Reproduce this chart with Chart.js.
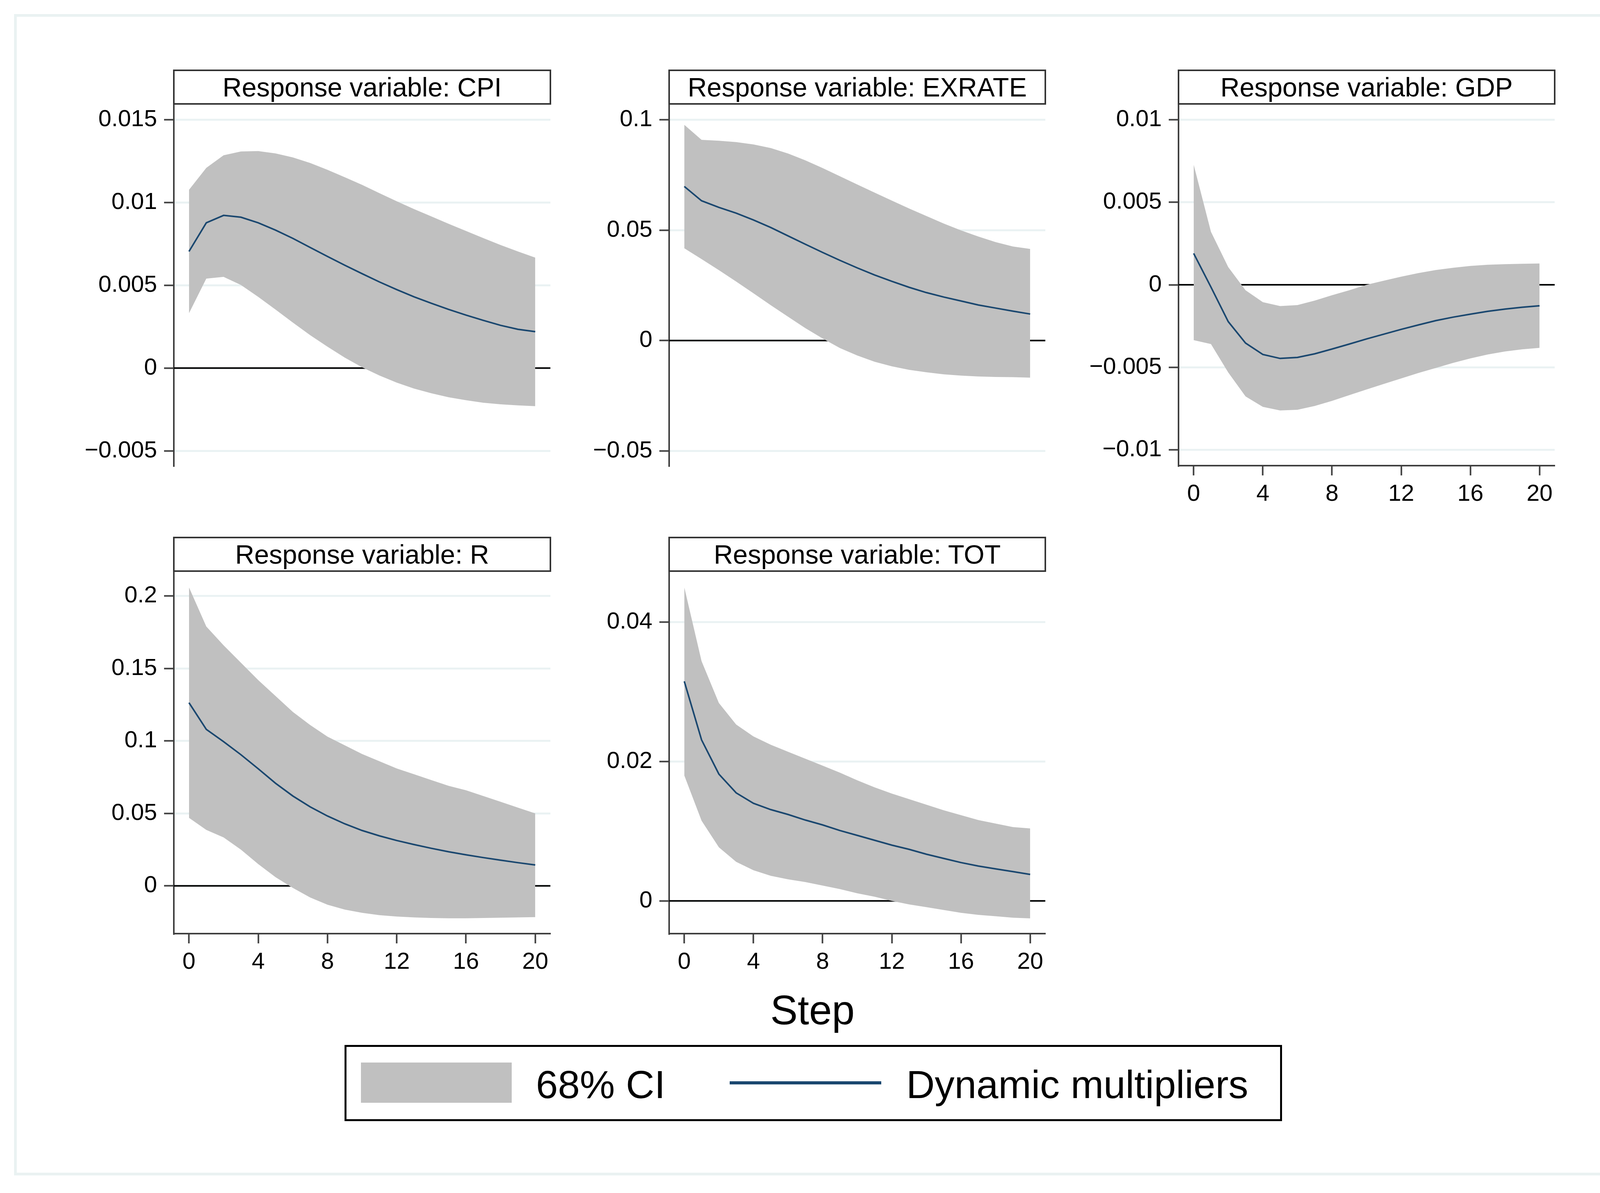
<!DOCTYPE html>
<html>
<head>
<meta charset="utf-8">
<script src="https://cdn.jsdelivr.net/npm/chart.js@4.4.1/dist/chart.umd.min.js"></script>
<style>
  html, body { margin: 0; padding: 0; background: #fff; }
  body { width: 4196px; height: 3054px; position: relative; overflow: hidden; font-family: "Liberation Sans", Arial, sans-serif; color: #000; }
  .frame { position: absolute; left: 36px; top: 36px; width: 4087px; height: 2973px; border: 7px solid #eaf2f2; box-sizing: border-box; }
  canvas { position: absolute; }
  .ptitle { position: absolute; box-sizing: border-box; border: 4px solid #333; background: #fff; font-size: 68px; text-align: center; white-space: nowrap; }
  .xtitle { position: absolute; left: 1780px; width: 600px; top: 2533px; height: 105px; line-height: 105px; font-size: 105px; text-align: center; }
  .legend { position: absolute; left: 882px; top: 2675px; width: 2400px; height: 195px; border: 5px solid #000; box-sizing: border-box; background: #fff; }
  .swatch { position: absolute; left: 924px; top: 2720px; width: 386px; height: 103px; background: #c0c0c0; }
  .lsample { position: absolute; left: 1868px; top: 2768px; width: 388px; height: 8px; background: #1a476f; }
  .ltext { position: absolute; top: 2726px; height: 101px; line-height: 101px; font-size: 101px; white-space: nowrap; }
</style>
</head>
<body>
<div class="frame"></div>
<script>
// steps and x axis
const steps = [0, 1, 2, 3, 4, 5, 6, 7, 8, 9, 10, 11, 12, 13, 14, 15, 16, 17, 18, 19, 20];
const xTickValues = [0, 4, 8, 12, 16, 20];
const xTickLabels = ['0', '4', '8', '12', '16', '20'];

// CPI
const cpiIrf   = [0.00704, 0.00877, 0.00922, 0.00911, 0.00877, 0.00833, 0.00783, 0.00728, 0.00674, 0.00621, 0.00570, 0.00520, 0.00474, 0.00430, 0.00391, 0.00354, 0.00320, 0.00288, 0.00258, 0.00234, 0.00220];
const cpiUpper = [0.01076, 0.01209, 0.01285, 0.01308, 0.01310, 0.01296, 0.01272, 0.01238, 0.01197, 0.01152, 0.01106, 0.01056, 0.01007, 0.00960, 0.00916, 0.00871, 0.00828, 0.00785, 0.00743, 0.00704, 0.00667];
const cpiLower = [0.00331, 0.00540, 0.00551, 0.00502, 0.00430, 0.00353, 0.00275, 0.00199, 0.00129, 0.00063, 0.00005, -0.00045, -0.00088, -0.00124, -0.00152, -0.00176, -0.00194, -0.00209, -0.00219, -0.00225, -0.00230];
const cpiTicks = [-0.005, 0, 0.005, 0.01, 0.015];
const cpiTickLabels = ['\u22120.005', '0', '0.005', '0.01', '0.015'];

// EXRATE
const exrIrf   = [0.0698, 0.0633, 0.0603, 0.0577, 0.0546, 0.0512, 0.0474, 0.0436, 0.0399, 0.0363, 0.0329, 0.0297, 0.0268, 0.0241, 0.0217, 0.0197, 0.0179, 0.0161, 0.0147, 0.0133, 0.0120];
const exrUpper = [0.0977, 0.0909, 0.0905, 0.0899, 0.0888, 0.0872, 0.0847, 0.0816, 0.0781, 0.0744, 0.0707, 0.0670, 0.0634, 0.0598, 0.0564, 0.0530, 0.0499, 0.0471, 0.0446, 0.0426, 0.0415];
const exrLower = [0.0418, 0.0369, 0.0319, 0.0267, 0.0214, 0.0160, 0.0108, 0.0056, 0.0009, -0.0034, -0.0068, -0.0096, -0.0117, -0.0133, -0.0144, -0.0153, -0.0159, -0.0163, -0.0165, -0.0166, -0.0168];
const exrTicks = [-0.05, 0, 0.05, 0.1];
const exrTickLabels = ['\u22120.05', '0', '0.05', '0.1'];

// GDP
const gdpIrf   = [0.00190, -0.00014, -0.00223, -0.00353, -0.00422, -0.00446, -0.00440, -0.00418, -0.00389, -0.00359, -0.00328, -0.00299, -0.00270, -0.00243, -0.00217, -0.00196, -0.00178, -0.00161, -0.00147, -0.00136, -0.00127];
const gdpUpper = [0.00728, 0.00321, 0.00107, -0.00033, -0.00105, -0.00129, -0.00123, -0.00096, -0.00063, -0.00033, 0.00000, 0.00025, 0.00049, 0.00071, 0.00089, 0.00103, 0.00114, 0.00121, 0.00125, 0.00127, 0.00129];
const gdpLower = [-0.00335, -0.00359, -0.00531, -0.00676, -0.00739, -0.00761, -0.00757, -0.00734, -0.00703, -0.00668, -0.00634, -0.00600, -0.00567, -0.00534, -0.00504, -0.00473, -0.00446, -0.00422, -0.00404, -0.00391, -0.00382];
const gdpTicks = [-0.01, -0.005, 0, 0.005, 0.01];
const gdpTickLabels = ['\u22120.01', '\u22120.005', '0', '0.005', '0.01'];

// R
const rIrf   = [0.1264, 0.1080, 0.0995, 0.0905, 0.0808, 0.0708, 0.0620, 0.0545, 0.0482, 0.0428, 0.0382, 0.0345, 0.0313, 0.0285, 0.0259, 0.0235, 0.0214, 0.0195, 0.0177, 0.0160, 0.0144];
const rUpper = [0.206, 0.179, 0.166, 0.154, 0.142, 0.131, 0.120, 0.111, 0.103, 0.097, 0.091, 0.086, 0.081, 0.077, 0.073, 0.069, 0.066, 0.062, 0.058, 0.054, 0.050];
const rLower = [0.0470, 0.0386, 0.0334, 0.0250, 0.0150, 0.0060, -0.0014, -0.0080, -0.0130, -0.0164, -0.0186, -0.0202, -0.0212, -0.0218, -0.0222, -0.0224, -0.0224, -0.0222, -0.0220, -0.0218, -0.0216];
const rTicks = [0, 0.05, 0.1, 0.15, 0.2];
const rTickLabels = ['0', '0.05', '0.1', '0.15', '0.2'];

// TOT
const totIrf   = [0.0315, 0.0231, 0.0182, 0.0155, 0.0140, 0.0131, 0.0124, 0.0116, 0.0109, 0.0101, 0.0094, 0.0087, 0.0080, 0.0074, 0.0067, 0.0061, 0.0055, 0.0050, 0.0046, 0.0042, 0.0038];
const totUpper = [0.0450, 0.0344, 0.0284, 0.0253, 0.0236, 0.0224, 0.0214, 0.0204, 0.0194, 0.0184, 0.0173, 0.0163, 0.0154, 0.0146, 0.0138, 0.0130, 0.0123, 0.0116, 0.0111, 0.0106, 0.0104];
const totLower = [0.0180, 0.0115, 0.0077, 0.0056, 0.0044, 0.0036, 0.0031, 0.0027, 0.0022, 0.0017, 0.0011, 0.0006, 0.0000, -0.0005, -0.0009, -0.0013, -0.0017, -0.0020, -0.0022, -0.0024, -0.0025];
const totTicks = [0, 0.02, 0.04];
const totTickLabels = ['0', '0.02', '0.04'];

// layout / style
const NAVY = '#1a476f';
const BAND = '#c0c0c0';
const AXIS = '#3f3f3f';
const GRID = '#eaf2f3';
const X_MIN = -0.875, X_MAX = 20.875;
const Y_AXIS_W = 260;
const X_AXIS_H = 120;
const PAD = 60;
const FONT = 60;

Chart.defaults.font.family = '"Liberation Sans", Arial, sans-serif';
Chart.defaults.color = '#000';

const panels = [
  { title: 'Response variable: CPI', irf: cpiIrf, upper: cpiUpper, lower: cpiLower, ticks: cpiTicks, labels: cpiTickLabels, min: -0.00589, max: 0.01595, box: [445, 266, 1409, 1192], xAxis: false },
  { title: 'Response variable: EXRATE', irf: exrIrf, upper: exrUpper, lower: exrLower, ticks: exrTicks, labels: exrTickLabels, min: -0.05668, max: 0.10718, box: [1713, 266, 2676, 1192], xAxis: false },
  { title: 'Response variable: GDP', irf: gdpIrf, upper: gdpUpper, lower: gdpLower, ticks: gdpTicks, labels: gdpTickLabels, min: -0.01095, max: 0.01095, box: [3017, 266, 3980, 1192], xAxis: true },
  { title: 'Response variable: R', irf: rIrf, upper: rUpper, lower: rLower, ticks: rTicks, labels: rTickLabels, min: -0.03296, max: 0.2172, box: [445, 1462, 1409, 2390], xAxis: true },
  { title: 'Response variable: TOT', irf: totIrf, upper: totUpper, lower: totLower, ticks: totTicks, labels: totTickLabels, min: -0.00469, max: 0.04731, box: [1713, 1462, 2676, 2390], xAxis: true },
];

function pts(vals) {
  return steps.map((s, i) => ({ x: s, y: vals[i] }));
}

panels.forEach(p => {
  const [L, T, R, B] = p.box;
  const xh = p.xAxis ? X_AXIS_H : 0;
  const w = R - L + Y_AXIS_W + PAD;
  const h = B - T + 2 * PAD + xh;

  const canv = document.createElement('canvas');
  canv.width = w;
  canv.height = h;
  canv.style.left = (L - Y_AXIS_W) + 'px';
  canv.style.top = (T - PAD) + 'px';
  canv.style.width = w + 'px';
  canv.style.height = h + 'px';
  document.body.appendChild(canv);

  new Chart(canv, {
    type: 'line',
    data: {
      datasets: [
        { label: 'Dynamic multipliers', data: pts(p.irf), borderColor: NAVY, borderWidth: 4, pointRadius: 0, fill: false, order: 0 },
        { label: '68% CI', data: pts(p.upper), borderColor: 'rgba(0,0,0,0)', borderWidth: 0, backgroundColor: BAND, pointRadius: 0, fill: '+1', order: 1 },
        { label: 'lower', data: pts(p.lower), borderColor: 'rgba(0,0,0,0)', borderWidth: 0, pointRadius: 0, fill: false, order: 2 },
        { label: 'zero', data: [{ x: X_MIN, y: 0 }, { x: X_MAX, y: 0 }], borderColor: '#000', borderWidth: 4, pointRadius: 0, fill: false, order: 3 },
      ],
    },
    options: {
      responsive: false,
      animation: false,
      events: [],
      layout: { padding: { left: 0, top: PAD, right: PAD, bottom: PAD } },
      elements: { line: { tension: 0 } },
      plugins: {
        legend: { display: false },
        tooltip: { enabled: false },
      },
      scales: {
        x: {
          type: 'linear',
          min: X_MIN,
          max: X_MAX,
          display: p.xAxis,
          afterBuildTicks: ax => { ax.ticks = xTickValues.map(v => ({ value: v })); },
          afterFit: ax => { ax.height = p.xAxis ? X_AXIS_H : 0; },
          grid: { display: true, drawOnChartArea: false, drawTicks: true, tickLength: 25, tickWidth: 4, tickColor: AXIS },
          border: { display: true, color: AXIS, width: 4 },
          ticks: { font: { size: FONT }, padding: 12, maxRotation: 0, autoSkip: false, callback: (v, i) => xTickLabels[i] },
        },
        y: {
          type: 'linear',
          min: p.min,
          max: p.max,
          afterBuildTicks: ax => { ax.ticks = p.ticks.map(v => ({ value: v })); },
          afterFit: ax => { ax.width = Y_AXIS_W; },
          grid: { color: GRID, lineWidth: 5, drawTicks: true, tickLength: 25, tickWidth: 4, tickColor: AXIS },
          border: { display: true, color: AXIS, width: 4 },
          ticks: { font: { size: FONT }, padding: 18, autoSkip: false, callback: (v, i) => p.labels[i] },
        },
      },
    },
  });

  const t = document.createElement('div');
  t.className = 'ptitle';
  t.style.left = (L - 2) + 'px';
  t.style.top = (T - 88) + 'px';
  t.style.width = (R - L + 4) + 'px';
  t.style.height = '90px';
  t.style.lineHeight = '82px';
  t.textContent = p.title;
  document.body.appendChild(t);
});

// axis title and legend
const xt = document.createElement('div');
xt.className = 'xtitle';
xt.textContent = 'Step';
document.body.appendChild(xt);

const lg = document.createElement('div');
lg.className = 'legend';
document.body.appendChild(lg);

const sw = document.createElement('div');
sw.className = 'swatch';
document.body.appendChild(sw);

const l1 = document.createElement('div');
l1.className = 'ltext';
l1.style.left = '1372px';
l1.textContent = '68% CI';
document.body.appendChild(l1);

const ls = document.createElement('div');
ls.className = 'lsample';
document.body.appendChild(ls);

const l2 = document.createElement('div');
l2.className = 'ltext';
l2.style.left = '2320px';
l2.textContent = 'Dynamic multipliers';
document.body.appendChild(l2);
</script>
</body>
</html>
